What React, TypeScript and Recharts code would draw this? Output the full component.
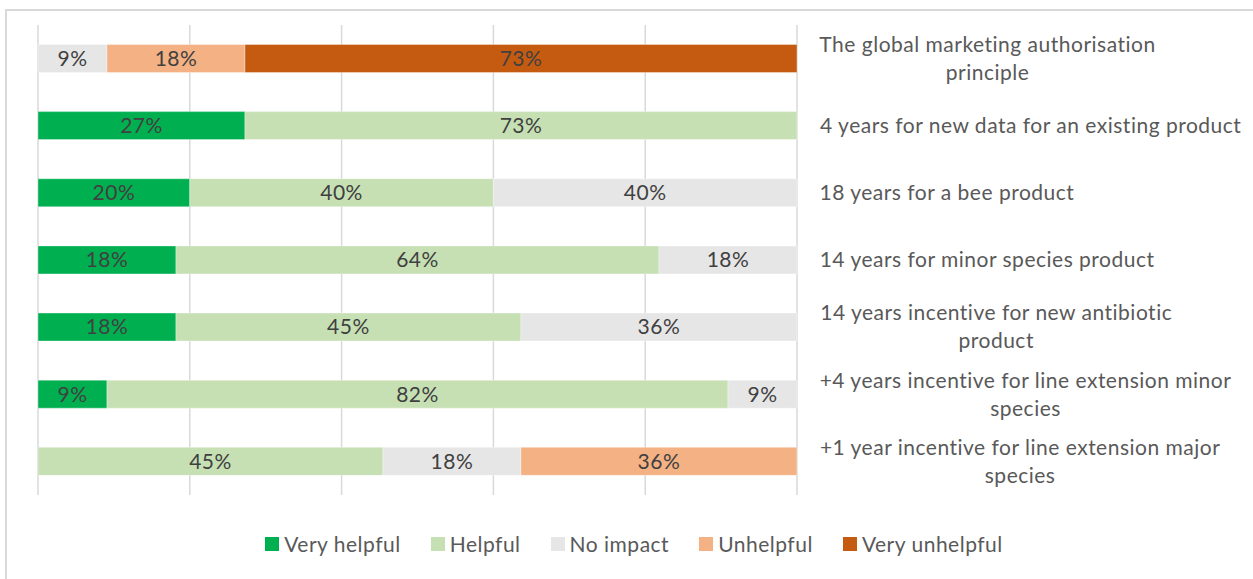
import { BarChart, Bar, XAxis, YAxis, CartesianGrid, LabelList } from "recharts";

// categories, top to bottom (line breaks as in the reference)
const categories = [
  "The global marketing authorisation\nprinciple",
  "4 years for new data for an existing product",
  "18 years for a bee product",
  "14 years for minor species product",
  "14 years incentive for new antibiotic\nproduct",
  "+4 years incentive for line extension minor\nspecies",
  "+1 year incentive for line extension major\nspecies",
];

// shares in percent per response
const veryHelpful = [0, 27.27, 20, 18.18, 18.18, 9.09, 0];
const helpful = [0, 72.73, 40, 63.64, 45.45, 81.82, 45.45];
const noImpact = [9.09, 0, 40, 18.18, 36.36, 9.09, 18.18];
const unhelpful = [18.18, 0, 0, 0, 0, 0, 36.36];
const veryUnhelpful = [72.73, 0, 0, 0, 0, 0, 0];

const xTicks = [0, 20, 40, 60, 80, 100];

const series = [
  { key: "veryHelpful", name: "Very helpful", color: "#00b050", values: veryHelpful },
  { key: "helpful", name: "Helpful", color: "#c6e0b4", values: helpful },
  { key: "noImpact", name: "No impact", color: "#e7e6e6", values: noImpact },
  { key: "unhelpful", name: "Unhelpful", color: "#f4b183", values: unhelpful },
  { key: "veryUnhelpful", name: "Very unhelpful", color: "#c55a11", values: veryUnhelpful },
];

const data = categories.map((name, i) => {
  const row: Record<string, string | number> = { name };
  series.forEach((s) => (row[s.key] = s.values[i]));
  return row;
});

const FONT = "Lato, 'Open Sans', sans-serif";
const FONT_SIZE = 21;
const SPACING = 0.5;

let ctx: CanvasRenderingContext2D | null = null;
const measure = (text: string) => {
  if (!ctx) ctx = document.createElement("canvas").getContext("2d");
  if (!ctx) return text.length * 9.6;
  ctx.font = `${FONT_SIZE}px ${FONT}`;
  return ctx.measureText(text).width + text.length * SPACING;
};

const CategoryTick = (props: any) => {
  const { x, y, payload } = props;
  const lines = String(payload.value).split("\n");
  const blockWidth = Math.max(...lines.map(measure));
  const lineHeight = 28;
  const cx = x + 22 + blockWidth / 2;
  const top = y - ((lines.length - 1) * lineHeight) / 2;
  return (
    <text
      textAnchor="middle"
      fill="#595959"
      fontSize={FONT_SIZE}
      fontFamily={FONT}
      letterSpacing={SPACING}
    >
      {lines.map((line, i) => (
        <tspan key={i} x={cx} y={top + i * lineHeight} dy="0.35em">
          {line}
        </tspan>
      ))}
    </text>
  );
};

const pct = (v: any) => (Number(v) > 0 ? `${Math.round(Number(v))}%` : "");

const App = () => {
  return (
    <div
      style={{
        position: "absolute",
        left: 0,
        top: 0,
        width: 1253,
        height: 579,
        overflow: "hidden",
        background: "#fff",
        fontFamily: FONT,
      }}
    >
      <div
        style={{
          position: "absolute",
          left: 5,
          top: 9,
          width: 1300,
          height: 620,
          border: "2px solid #d9d9d9",
        }}
      />
      <div style={{ position: "absolute", left: 0, top: 0 }}>
        <BarChart
          width={1253}
          height={579}
          data={data}
          layout="vertical"
          margin={{ top: 25, right: 16, bottom: 84, left: 38 }}
          barCategoryGap="29%"
        >
          <CartesianGrid horizontal={false} stroke="#d9d9d9" strokeWidth={1.5} />
          <XAxis type="number" domain={[0, 100]} ticks={xTicks} hide />
          <YAxis
            type="category"
            dataKey="name"
            orientation="right"
            width={440}
            axisLine={false}
            tickLine={false}
            tickSize={0}
            tickMargin={0}
            tick={<CategoryTick />}
            interval={0}
          />
          {series.map((s) => (
            <Bar
              key={s.key}
              dataKey={s.key}
              name={s.name}
              stackId="a"
              fill={s.color}
              stroke="#ffffff"
              strokeOpacity={0.35}
              strokeWidth={1}
              isAnimationActive={false}
            >
              <LabelList
                dataKey={s.key}
                position="center"
                formatter={pct}
                fill="#404040"
                fontSize={FONT_SIZE}
                fontFamily={FONT}
                letterSpacing={SPACING}
              />
            </Bar>
          ))}
        </BarChart>
      </div>
      <div
        style={{
          position: "absolute",
          left: 0,
          top: 530,
          width: 1268,
          display: "flex",
          justifyContent: "center",
          gap: 30,
          fontSize: FONT_SIZE,
          letterSpacing: SPACING,
          color: "#595959",
          lineHeight: "28px",
        }}
      >
        {series.map((s) => (
          <div key={s.key} style={{ display: "flex", alignItems: "center", gap: 5 }}>
            <span style={{ width: 14, height: 14, background: s.color, display: "inline-block" }} />
            <span>{s.name}</span>
          </div>
        ))}
      </div>
    </div>
  );
};

export default App;
